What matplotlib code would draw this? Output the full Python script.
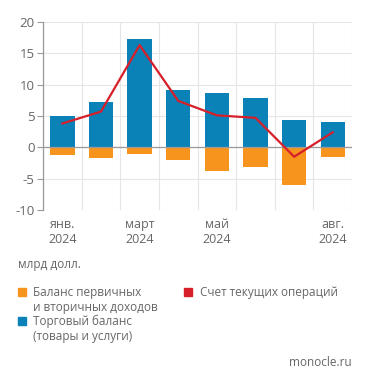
import matplotlib.pyplot as plt
from matplotlib.lines import Line2D
import numpy as np

# Data
months = ['янв.\n2024', 'фев.\n2024', 'март\n2024', 'апр.\n2024',
          'май\n2024', 'июнь\n2024', 'июль\n2024', 'авг.\n2024']
trade = [5.0, 7.3, 17.2, 9.2, 8.6, 7.8, 4.4, 4.0]
income = [-1.3, -1.7, -1.1, -2.0, -3.7, -3.2, -6.0, -1.5]
current = [3.8, 5.7, 16.3, 7.4, 5.1, 4.7, -1.5, 2.4]
shown_ticks = [0, 2, 4, 7]

blue = '#0a82b8'
orange = '#f7941d'
red = '#d71f2a'
grey = '#666666'

plt.rcParams['font.family'] = ['Open Sans', 'DejaVu Sans']
plt.rcParams['axes.unicode_minus'] = False

fig = plt.figure(figsize=(3.71, 3.84), dpi=100)
ax = fig.add_axes([0.116, 0.453, 0.833, 0.49])

x = np.arange(len(months))
ax.bar(x, trade, width=0.63, color=blue, zorder=2)
ax.bar(x, income, width=0.63, color=orange, zorder=2)
ax.plot(x, current, color=red, lw=1.6, zorder=3)
ax.axhline(0, color='#9a9a9a', lw=0.9, zorder=2.5)

# Axes
ax.set_xlim(-0.5, len(months) - 0.5)
ax.set_ylim(-10, 20)
ax.set_yticks(range(-10, 21, 5))
ax.set_xticks([x[i] for i in shown_ticks])
ax.set_xticklabels([months[i] for i in shown_ticks], color=grey, fontsize=9,
                   linespacing=1.2)
ax.set_xticks(np.arange(-0.5, len(months)), minor=True)
ax.tick_params(axis='x', which='both', length=0, pad=6)
ax.tick_params(axis='y', colors='#9a9a9a', labelcolor=grey, labelsize=9.5,
               length=4, width=0.8, pad=2)
ax.grid(axis='y', color='#e6e6e6', lw=0.8, zorder=0)
ax.grid(axis='x', which='minor', color='#e6e6e6', lw=0.8, zorder=0)
for s in ['top', 'right', 'bottom']:
    ax.spines[s].set_visible(False)
ax.spines['left'].set_color('#9a9a9a')
ax.spines['left'].set_linewidth(0.9)

fig.text(0.049, 0.31, 'млрд долл.', color=grey, fontsize=8.5, va='center')

# Legend, drawn by hand to keep the reference layout
legend_items = [
    (orange, 'Баланс первичных\nи вторичных доходов', 0.059, 0.239),
    (blue, 'Торговый баланс\n(товары и услуги)', 0.059, 0.165),
    (red, 'Счет текущих операций', 0.507, 0.239),
]
for color, label, lx, ly in legend_items:
    fig.add_artist(Line2D([lx], [ly], ls='', marker='s', color=color,
                          markersize=5.5, transform=fig.transFigure))
    fig.text(lx + 0.031, ly + 0.016, label, color=grey, fontsize=8.5,
             va='top', linespacing=1.2)

fig.text(0.949, 0.057, 'monocle.ru', color=grey, fontsize=8.5, ha='right',
         va='center')

fig.savefig('out.png', dpi=100)
